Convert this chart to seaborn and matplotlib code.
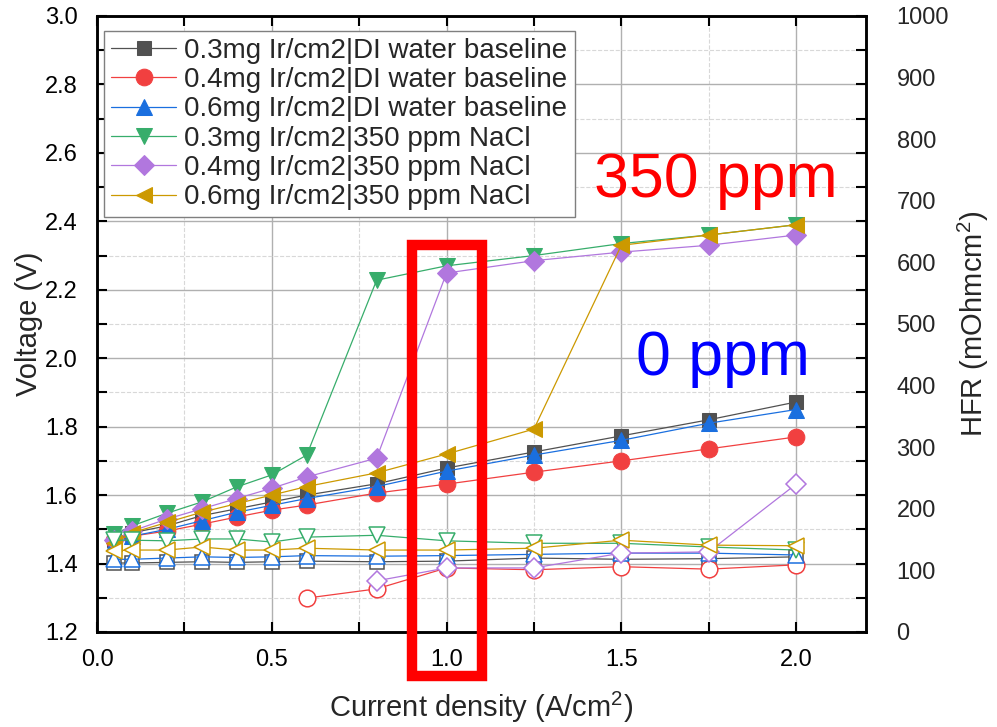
import matplotlib
matplotlib.use("Agg")
import matplotlib.pyplot as plt
import numpy as np
import seaborn as sns
from matplotlib.patches import Rectangle
from matplotlib.ticker import MultipleLocator, FormatStrFormatter

# current density points (A/cm2)
current = [0.05, 0.1, 0.2, 0.3, 0.4, 0.5, 0.6, 0.8, 1.0, 1.25, 1.5, 1.75, 2.0]

# voltage (V), left axis
v_03_di = [1.47, 1.49, 1.51, 1.54, 1.56, 1.58, 1.60, 1.633, 1.679, 1.726, 1.773, 1.82, 1.872]
v_04_di = [1.47, 1.48, 1.495, 1.515, 1.536, 1.556, 1.571, 1.606, 1.632, 1.667, 1.70, 1.735, 1.77]
v_06_di = [1.46, 1.48, 1.50, 1.525, 1.55, 1.57, 1.59, 1.625, 1.67, 1.717, 1.76, 1.81, 1.85]
v_03_na = [1.485, 1.51, 1.547, 1.58, 1.624, 1.659, 1.717, 2.228, 2.27, 2.30, 2.335, 2.36, 2.39]
v_04_na = [1.47, 1.495, 1.53, 1.56, 1.59, 1.62, 1.653, 1.708, 2.249, 2.285, 2.31, 2.33, 2.36]
v_06_na = [1.46, 1.49, 1.52, 1.55, 1.575, 1.60, 1.625, 1.665, 1.72, 1.793, 2.33, 2.36, 2.39]

# HFR (mOhm cm2), right axis
h_03_di = [112, 112, 113, 114, 113, 114, 115, 114, 115, 120, 118, 119, 122]
h_04_di = [np.nan] * 6 + [55, 70, 104, 101, 106, 102, 109]
h_06_di = [118, 118, 120, 122, 121, 122, 124, 123, 124, 126, 128, 128, 125]
h_03_na = [149, 149, 148, 151, 151, 146, 154, 157, 148, 144, 144, 138, 133]
h_04_na = [np.nan] * 7 + [83, 104, 104, 128, 130, 240]
h_06_na = [132, 133, 133, 138, 133, 133, 136, 133, 133, 136, 149, 141, 140]

labels = ["0.3mg Ir/cm2|DI water baseline", "0.4mg Ir/cm2|DI water baseline",
          "0.6mg Ir/cm2|DI water baseline", "0.3mg Ir/cm2|350 ppm NaCl",
          "0.4mg Ir/cm2|350 ppm NaCl", "0.6mg Ir/cm2|350 ppm NaCl"]
colors = ["#515151", "#F14040", "#1A6FDF", "#37AD6B", "#B177DE", "#CC9900"]
markers = ["s", "o", "^", "v", "D", "<"]
msizes = [10, 12, 12, 12, 10, 12]

volts = [v_03_di, v_04_di, v_06_di, v_03_na, v_04_na, v_06_na]
hfrs = [h_03_di, h_04_di, h_06_di, h_03_na, h_04_na, h_06_na]

sns.set_style("white")
plt.rcParams["font.family"] = ["Liberation Sans", "DejaVu Sans"]
plt.rcParams["mathtext.default"] = "regular"

fig = plt.figure(figsize=(9.97, 7.27), dpi=100)
ax = fig.add_axes([0.0973, 0.1307, 0.7713, 0.8473])
ax2 = ax.twinx()

for v, lab, c, m, ms in zip(volts, labels, colors, markers, msizes):
    sns.lineplot(x=current, y=v, ax=ax, color=c, marker=m, markersize=ms,
                 markeredgecolor=c, linewidth=0.9, label=lab, legend=False)

for h, c, m, ms in zip(hfrs, colors, markers, msizes):
    sns.lineplot(x=current, y=h, ax=ax2, color=c, marker=m, markersize=ms,
                 markerfacecolor="white", markeredgecolor=c, markeredgewidth=1.1,
                 linewidth=0.9, legend=False)

ax.set_xlim(0, 2.2)
ax.set_ylim(1.2, 3.0)
ax2.set_ylim(0, 1000)

ax.xaxis.set_major_locator(MultipleLocator(0.5))
ax.xaxis.set_minor_locator(MultipleLocator(0.25))
ax.yaxis.set_major_locator(MultipleLocator(0.2))
ax.yaxis.set_minor_locator(MultipleLocator(0.1))
ax.xaxis.set_major_formatter(FormatStrFormatter("%.1f"))
ax.yaxis.set_major_formatter(FormatStrFormatter("%.1f"))
ax2.yaxis.set_major_locator(MultipleLocator(100))

ax.grid(which="major", color="#b0b0b0", linewidth=1.0, linestyle="-")
ax.grid(which="minor", color="#d8d8d8", linewidth=0.8, linestyle="--")
ax.set_axisbelow(True)

ax.tick_params(which="both", direction="in", top=True, right=True, left=True,
               bottom=True, labelsize=17, width=1.5, colors="black", length=7)
ax.tick_params(axis="x", which="major", pad=12)
ax.tick_params(axis="y", which="major", pad=14)
ax2.tick_params(axis="y", length=0, labelsize=17, pad=22)

for a in (ax, ax2):
    for s in a.spines.values():
        s.set_linewidth(1.8)
        s.set_color("black")

ax.set_xlabel("Current density (A/cm$^2$)", fontsize=21, labelpad=14)
ax.set_ylabel("Voltage (V)", fontsize=21, labelpad=1)
ax2.set_ylabel("HFR (mOhmcm$^2$)", fontsize=21, labelpad=5)

leg = ax.legend(loc="upper left", fontsize=20, frameon=True, fancybox=False,
                edgecolor="#7f7f7f", framealpha=1, handlelength=2.35,
                borderpad=0.25, labelspacing=0.12, handletextpad=0.3,
                borderaxespad=0, bbox_to_anchor=(0.009, 0.976))
leg.get_frame().set_linewidth(1.0)

# annotations
ax2.add_patch(Rectangle((0.9, 1.07), 0.2, 1.26, transform=ax.transData,
                        fill=False, edgecolor="#ff0000", linewidth=7.5,
                        clip_on=False, zorder=10))
ax2.text(1.77, 2.52, "350 ppm", transform=ax.transData, color="#ff0000",
         fontsize=45, ha="center", va="center", zorder=11)
ax2.text(1.79, 2.0, "0 ppm", transform=ax.transData, color="#0000ff",
         fontsize=45, ha="center", va="center", zorder=11)

fig.savefig("out.png", dpi=100)
